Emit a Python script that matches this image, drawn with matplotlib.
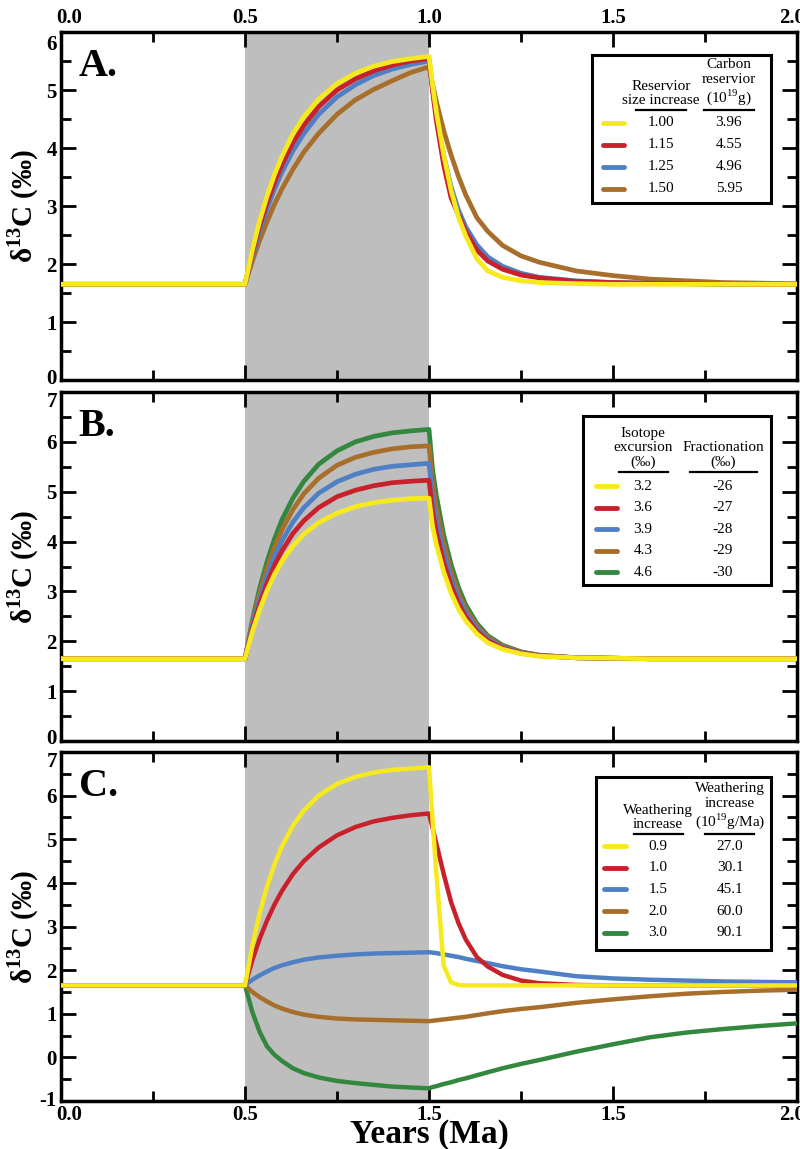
import matplotlib
matplotlib.use("Agg")
import matplotlib.pyplot as plt
import matplotlib.transforms as mtransforms
from matplotlib.lines import Line2D
from matplotlib.patches import Rectangle
from matplotlib.ticker import MultipleLocator

plt.rcParams['font.family'] = ['Liberation Serif', 'DejaVu Serif']
plt.rcParams['font.weight'] = 'bold'
plt.rcParams['axes.labelweight'] = 'bold'
plt.rcParams['mathtext.fontset'] = 'custom'
plt.rcParams['mathtext.rm'] = 'Liberation Serif:normal'
plt.rcParams['mathtext.bf'] = 'Liberation Serif:bold'
plt.rcParams['axes.unicode_minus'] = False

W, H = 800, 1149

# time axis (Ma), shared by every run
years = [0.0, 0.5, 0.52, 0.54, 0.56, 0.58, 0.6, 0.63, 0.66, 0.7, 0.75, 0.8, 0.85, 0.9, 0.95, 1.0,
         1.01, 1.02, 1.04, 1.06, 1.08, 1.1, 1.13, 1.16, 1.2, 1.25, 1.3, 1.4, 1.5, 1.6, 1.7, 1.8, 1.9, 2.0]
pulse = (0.5, 1.0)

colors = ['#F6EA1E', '#C9212B', '#4F80C5', '#A86E2B', '#33873F']

# A. reservoir size
res_size = ['1.00', '1.15', '1.25', '1.50']
res_carbon = ['3.96', '4.55', '4.96', '5.95']
a_100 = [1.65, 1.65, 2.24, 2.75, 3.17, 3.54, 3.85, 4.24, 4.54, 4.84, 5.11, 5.29, 5.41, 5.49, 5.54, 5.58,
         5.07, 4.62, 3.88, 3.27, 2.81, 2.48, 2.09, 1.88, 1.77, 1.71, 1.68, 1.66, 1.65, 1.65, 1.65, 1.65, 1.65, 1.65]
a_115 = [1.65, 1.65, 2.19, 2.66, 3.06, 3.41, 3.71, 4.09, 4.39, 4.71, 5.00, 5.19, 5.33, 5.43, 5.50, 5.54,
         4.96, 4.47, 3.70, 3.14, 2.85, 2.56, 2.24, 2.05, 1.91, 1.81, 1.76, 1.70, 1.68, 1.67, 1.66, 1.65, 1.65, 1.65]
a_125 = [1.65, 1.65, 2.14, 2.57, 2.95, 3.29, 3.58, 3.95, 4.25, 4.58, 4.88, 5.09, 5.25, 5.36, 5.44, 5.50,
         5.00, 4.57, 3.87, 3.33, 2.93, 2.64, 2.33, 2.12, 1.96, 1.84, 1.77, 1.71, 1.68, 1.67, 1.66, 1.65, 1.65, 1.65]
a_150 = [1.65, 1.65, 2.05, 2.41, 2.73, 3.03, 3.29, 3.63, 3.93, 4.25, 4.58, 4.83, 5.01, 5.16, 5.30, 5.40,
         5.09, 4.80, 4.30, 3.88, 3.51, 3.19, 2.80, 2.56, 2.32, 2.14, 2.03, 1.88, 1.80, 1.74, 1.71, 1.68, 1.67, 1.66]

# B. fractionation
iso_exc = ['3.2', '3.6', '3.9', '4.3', '4.6']
frac = ['-26', '-27', '-28', '-29', '-30']
b_26 = [1.65, 1.65, 2.19, 2.64, 3.02, 3.34, 3.60, 3.91, 4.15, 4.38, 4.57, 4.70, 4.78, 4.83, 4.86, 4.87,
        4.29, 3.94, 3.39, 2.97, 2.65, 2.41, 2.15, 1.97, 1.84, 1.75, 1.70, 1.67, 1.66, 1.65, 1.65, 1.65, 1.65, 1.65]
b_27 = [1.65, 1.65, 2.25, 2.75, 3.17, 3.52, 3.81, 4.16, 4.42, 4.68, 4.90, 5.03, 5.12, 5.18, 5.21, 5.23,
        4.59, 4.19, 3.58, 3.12, 2.76, 2.49, 2.20, 2.01, 1.86, 1.76, 1.71, 1.67, 1.66, 1.65, 1.65, 1.65, 1.65, 1.65]
b_28 = [1.65, 1.65, 2.31, 2.86, 3.31, 3.70, 4.01, 4.39, 4.68, 4.97, 5.20, 5.35, 5.45, 5.51, 5.54, 5.57,
        4.86, 4.43, 3.77, 3.26, 2.87, 2.57, 2.26, 2.04, 1.88, 1.77, 1.71, 1.67, 1.66, 1.65, 1.65, 1.65, 1.65, 1.65]
b_29 = [1.65, 1.65, 2.37, 2.97, 3.46, 3.88, 4.23, 4.64, 4.96, 5.27, 5.53, 5.69, 5.79, 5.86, 5.90, 5.92,
        5.15, 4.68, 3.96, 3.40, 2.97, 2.65, 2.31, 2.08, 1.90, 1.78, 1.72, 1.67, 1.66, 1.65, 1.65, 1.65, 1.65, 1.65]
b_30 = [1.65, 1.65, 2.42, 3.07, 3.60, 4.05, 4.43, 4.87, 5.21, 5.55, 5.82, 6.00, 6.11, 6.18, 6.22, 6.25,
        5.42, 4.92, 4.13, 3.54, 3.08, 2.73, 2.36, 2.11, 1.92, 1.79, 1.72, 1.67, 1.66, 1.65, 1.65, 1.65, 1.65, 1.65]

# C. weathering
weath = ['0.9', '1.0', '1.5', '2.0', '3.0']
weath_flux = ['27.0', '30.1', '45.1', '60.0', '90.1']
c_09 = [1.65, 1.65, 2.56, 3.31, 3.92, 4.42, 4.83, 5.31, 5.66, 6.00, 6.27, 6.43, 6.53, 6.59, 6.62, 6.65,
        5.40, 4.20, 2.10, 1.72, 1.66, 1.65, 1.65, 1.65, 1.65, 1.65, 1.65, 1.65, 1.65, 1.65, 1.65, 1.65, 1.65, 1.65]
c_10 = [1.65, 1.65, 2.23, 2.72, 3.14, 3.50, 3.81, 4.20, 4.50, 4.81, 5.09, 5.28, 5.41, 5.49, 5.55, 5.59,
        5.25, 4.90, 4.20, 3.56, 3.08, 2.70, 2.30, 2.08, 1.89, 1.76, 1.70, 1.66, 1.65, 1.65, 1.65, 1.65, 1.65, 1.65]
c_15 = [1.65, 1.65, 1.78, 1.88, 1.97, 2.05, 2.11, 2.18, 2.24, 2.29, 2.33, 2.36, 2.38, 2.39, 2.40, 2.41,
        2.40, 2.39, 2.36, 2.33, 2.30, 2.26, 2.21, 2.16, 2.09, 2.02, 1.97, 1.86, 1.81, 1.78, 1.76, 1.74, 1.73, 1.72]
c_20 = [1.65, 1.65, 1.50, 1.38, 1.28, 1.19, 1.12, 1.04, 0.98, 0.93, 0.89, 0.87, 0.86, 0.85, 0.84, 0.83,
        0.84, 0.85, 0.87, 0.89, 0.91, 0.93, 0.97, 1.01, 1.06, 1.11, 1.15, 1.25, 1.33, 1.40, 1.46, 1.50, 1.53, 1.55]
c_30 = [1.65, 1.65, 1.04, 0.58, 0.25, 0.06, -0.08, -0.25, -0.36, -0.46, -0.54, -0.59, -0.63, -0.67, -0.69, -0.71,
        -0.68, -0.66, -0.61, -0.57, -0.52, -0.48, -0.41, -0.34, -0.25, -0.15, -0.06, 0.13, 0.30, 0.46, 0.57, 0.65, 0.72, 0.78]

x_ticks = [0, 0.5, 1.0, 1.5, 2.0]
top_ticklabels = ['0.0', '0.5', '1.0', '1.5', '2.0']
bottom_ticklabels = ['0.0', '0.5', '1.5', '1.5', '2.0']   # as printed in the original


def fx(p):
    return p / W


def fy(p):
    return 1 - p / H


def nudge(txt, dx, dy):
    # shift a text by pixels
    txt.set_transform(txt.get_transform() +
                      mtransforms.ScaledTranslation(dx / 100, dy / 100, fig.dpi_scale_trans))


def setup(ax, ylim):
    ax.axvspan(*pulse, color='#bebebe', lw=0, zorder=0)
    ax.set_xlim(0, 2)
    ax.set_ylim(*ylim)
    ax.set_xticks(x_ticks)
    ax.xaxis.set_minor_locator(MultipleLocator(0.25))
    ax.set_yticks(range(ylim[0], ylim[1] + 1))
    ax.yaxis.set_minor_locator(MultipleLocator(0.5))
    ax.tick_params(which='both', direction='in', top=True, right=True, width=2,
                   labelsize=15, pad=3)
    ax.tick_params(which='major', length=11)
    ax.tick_params(which='minor', length=7)
    for s in ax.spines.values():
        s.set_linewidth(2.5)
    ax.set_ylabel('δ$^{\\mathbf{13}}$C (‰)', fontsize=21)
    ax.yaxis.set_label_coords(-0.027, 0.5)


def key(ax, box, heads, col1, col2, cols, c1, c2, u1, u2, uy, row0, step, sw):
    l, t, r, b = box
    tf = ax.figure.transFigure
    ax.add_patch(Rectangle((fx(l), fy(b)), fx(r - l), (b - t) / H, transform=tf,
                           facecolor='white', edgecolor='black', lw=2.2, zorder=5))
    for cx, txt in zip((c1, c2), heads):
        ax.text(fx(cx), fy(uy - 3), txt, transform=tf, ha='center', va='bottom',
                multialignment='center', linespacing=1.12, fontsize=11, fontweight='normal', zorder=6)
    for (x0, x1) in (u1, u2):
        ax.add_line(Line2D([fx(x0), fx(x1)], [fy(uy), fy(uy)], transform=tf,
                           color='black', lw=1.6, zorder=6))
    for i, (v1, v2, c) in enumerate(zip(col1, col2, cols)):
        y = row0 + i * step
        ax.add_line(Line2D([fx(sw[0]), fx(sw[1])], [fy(y), fy(y)], transform=tf,
                           color=c, lw=3.5, solid_capstyle='round', zorder=6))
        ax.text(fx(c1), fy(y), v1, transform=tf, ha='center', va='center',
                fontsize=11, fontweight='normal', zorder=6)
        ax.text(fx(c2), fy(y), v2, transform=tf, ha='center', va='center',
                fontsize=11, fontweight='normal', zorder=6)


fig = plt.figure(figsize=(W / 100, H / 100), dpi=100)
left, width = 61 / W, 736 / W
axA = fig.add_axes([left, fy(380), width, 348 / H])
axB = fig.add_axes([left, fy(741), width, 349 / H])
axC = fig.add_axes([left, fy(1101), width, 349 / H])

# Panel A
setup(axA, (0, 6))
for ys, c in zip([a_150, a_125, a_115, a_100], colors[3::-1]):
    axA.plot(years, ys, color=c, lw=3.4, solid_joinstyle='round', zorder=3)
axA.set_xticklabels(top_ticklabels)
axA.tick_params(axis='x', labeltop=True, labelbottom=False)
axA.text(0.024, 0.955, 'A.', transform=axA.transAxes, fontsize=29, ha='left', va='top')
key(axA, (592, 55, 771, 203),
    ['Reservior\nsize increase', 'Carbon\nreservior\n(10$^{19}$g)'],
    res_size, res_carbon, colors[:4], 661, 729, (636, 686), (704, 754), 110, 123, 21.9, (603, 624))

# Panel B
setup(axB, (0, 7))
for ys, c in zip([b_30, b_29, b_28, b_27, b_26], colors[::-1]):
    axB.plot(years, ys, color=c, lw=3.4, solid_joinstyle='round', zorder=3)
axB.tick_params(axis='x', labelbottom=False)
axB.text(0.024, 0.955, 'B.', transform=axB.transAxes, fontsize=29, ha='left', va='top')
key(axB, (583, 416, 771, 585),
    ['Isotope\nexcursion\n(‰)', 'Fractionation\n(‰)'],
    iso_exc, frac, colors, 643, 723, (619, 668), (690, 757), 472, 486, 21.6, (596, 617))

# Panel C
setup(axC, (-1, 7))
for ys, c in zip([c_30, c_20, c_15, c_10, c_09], colors[::-1]):
    axC.plot(years, ys, color=c, lw=3.2, solid_joinstyle='round', zorder=3)
axC.set_xticklabels(bottom_ticklabels)
axC.text(0.024, 0.955, 'C.', transform=axC.transAxes, fontsize=29, ha='left', va='top')
axC.set_xlabel('Years (Ma)', fontsize=24)
axC.xaxis.set_label_coords(0.5, -0.053)
key(axC, (596, 777, 771, 950),
    ['Weathering\nincrease', 'Weathering\nincrease\n(10$^{19}$g/Ma)'],
    weath, weath_flux, colors, 658, 730, (634, 683), (705, 754), 834, 846, 21.7, (604, 626))

# label nudges as in the original
ta = axA.xaxis.get_major_ticks()
nudge(ta[0].label2, 8, 0)
nudge(ta[-1].label2, -5, 0)
tc = axC.xaxis.get_major_ticks()
nudge(tc[0].label1, 8, 0)
nudge(tc[-1].label1, -5, 0)
nudge(axA.yaxis.get_major_ticks()[-1].label1, 0, -10)
nudge(axA.yaxis.get_major_ticks()[0].label1, 0, 4)
nudge(axB.yaxis.get_major_ticks()[-1].label1, 0, -7)
nudge(axB.yaxis.get_major_ticks()[0].label1, 0, 4)
nudge(axC.yaxis.get_major_ticks()[-1].label1, 0, -7)
nudge(axC.yaxis.get_major_ticks()[0].label1, 0, 3)

fig.savefig('out.png', dpi=100)
